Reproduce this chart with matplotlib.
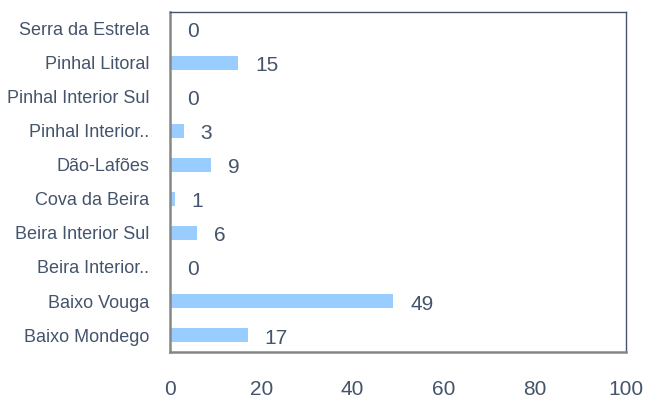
import numpy as np
import matplotlib.pyplot as plt
from matplotlib import font_manager

# 数据
regioes = ['Baixo Mondego', 'Baixo Vouga', 'Beira Interior..', 'Beira Interior Sul',
           'Cova da Beira', 'Dão-Lafões', 'Pinhal Interior..', 'Pinhal Interior Sul',
           'Pinhal Litoral', 'Serra da Estrela']
valores = [17, 49, 0, 6, 1, 9, 3, 0, 15, 0]
xticks = [0, 20, 40, 60, 80, 100]

cor_texto = '#44546A'
plt.rcParams['font.family'] = ['Liberation Sans', 'DejaVu Sans']

# 窄字体用于类别标签
nomes = {f.name for f in font_manager.fontManager.ttflist}
if 'Liberation Sans Narrow' in nomes:
    fonte_y, tam_y = 'Liberation Sans Narrow', 15.5
else:
    fonte_y, tam_y = 'Liberation Sans', 13

fig = plt.figure(figsize=(6.48, 4.01), dpi=100)
ax = fig.add_axes([170 / 648, 1 - 352 / 401, 456 / 648, 340 / 401])

y = np.arange(len(regioes))
ax.barh(y, valores, height=0.4, color='#99CCFF')

# 数值标签
for yi, v in zip(y, valores):
    ax.annotate(str(v), (v, yi), xytext=(17, -3), textcoords='offset pixels',
                ha='left', va='center', fontsize=15, color=cor_texto)

ax.set_xlim(0, 100)
ax.set_ylim(-0.5, len(regioes) - 0.5)
ax.set_xticks(xticks)
ax.set_yticks(y)
ax.set_yticklabels(regioes, fontfamily=fonte_y, fontsize=tam_y)
ax.tick_params(axis='both', length=0, colors=cor_texto)
ax.tick_params(axis='x', pad=20, labelsize=15)
ax.tick_params(axis='y', pad=15)

# 边框
for s in ['left', 'bottom']:
    ax.spines[s].set_color('#868686')
    ax.spines[s].set_linewidth(1.8)
for s in ['top', 'right']:
    ax.spines[s].set_color(cor_texto)
    ax.spines[s].set_linewidth(1.0)

plt.savefig('out.png', dpi=100)
